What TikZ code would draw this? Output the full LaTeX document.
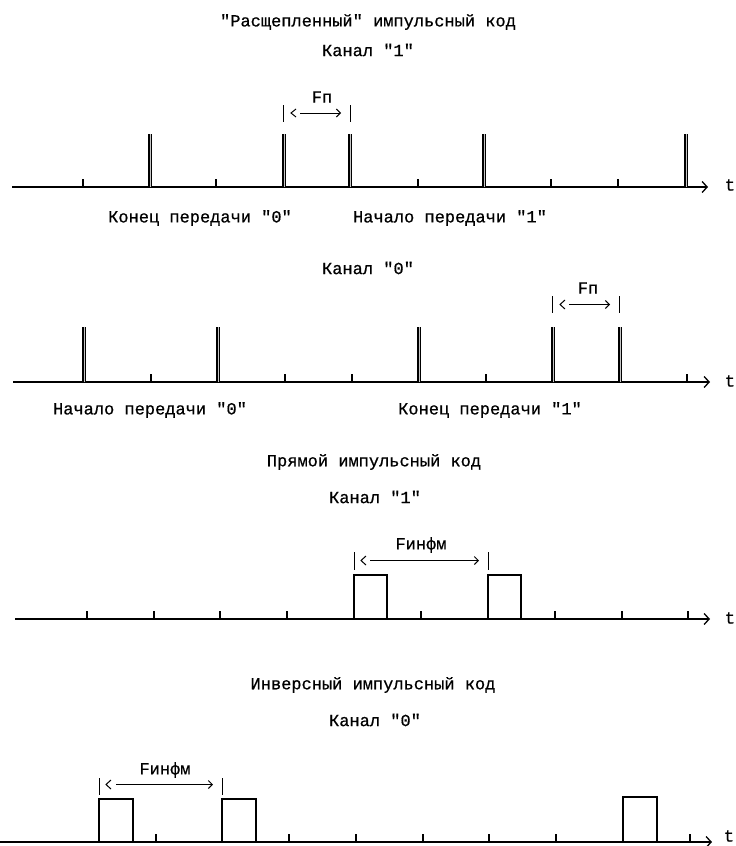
\documentclass[tikz,border=0pt]{standalone}
\usepackage{fontspec}
\setmainfont{Liberation Mono}
\newfontfamily\dotfont{Liberation Mono}[FakeBold=0.7]
\usetikzlibrary{arrows.meta}
\begin{document}
\begin{tikzpicture}[x=1pt,y=-1pt,
  lbl/.style={font=\dotfont\fontsize{17}{17}\selectfont, inner sep=0pt, anchor=center},
  axisline/.style={line width=1.9pt,-{Straight Barb[length=5pt,width=11pt,line width=1.3pt]}},
  tickmark/.style={line width=1.1pt},
  spike/.style={line width=1.6pt, double=gray!45, double distance=0.9pt},
  pulse/.style={line width=1.4pt},
  marker/.style={line width=1pt},
  spanarrow/.style={line width=1pt,-{Straight Barb[length=4pt,width=8pt,line width=1pt]}}
]
\useasboundingbox (0,0) rectangle (736,846);

% ---------- Chart 1 ----------
\node[lbl] (title1) at (368,22) {"Расщепленный" импульсный код};
\node[lbl] (kanal1a) at (368,50) {Канал "1"};
\coordinate (a1s) at (12,187);
\coordinate (a1e) at (708,187);
\draw[axisline] (a1s) -- (a1e);
\node[lbl] (t1) at (730,185) {t};
\foreach \x in {83,216,418,551,618} \draw[tickmark] (\x,187) -- (\x,179);
\foreach \x in {150,284,350,484,686} \draw[spike] (\x,187) -- (\x,134);
\draw[marker] (283,105) -- (283,122);
\draw[marker] (350,105) -- (350,122);
\draw[marker] (296,109) -- (291,113) -- (296,117);
\draw[spanarrow] (300,113) -- (341,113);
\node[lbl] (fp1) at (322,97) {Fп};
\node[lbl] (end0) at (200,218) {Конец передачи "0"};
\node[lbl] (beg1) at (450,218) {Начало передачи "1"};

% ---------- Chart 2 ----------
\node[lbl] (kanal0a) at (368,268) {Канал "0"};
\draw[axisline] (13,382) -- (710,382);
\node[lbl] (t2) at (730,381) {t};
\foreach \x in {151,285,352,486,687} \draw[tickmark] (\x,382) -- (\x,374);
\foreach \x in {84,218,419,553,620} \draw[spike] (\x,382) -- (\x,327);
\draw[marker] (552,296) -- (552,313);
\draw[marker] (619,296) -- (619,313);
\draw[marker] (565,300) -- (560,304.5) -- (565,309);
\draw[spanarrow] (569,304.5) -- (610,304.5);
\node[lbl] (fp2) at (588,288) {Fп};
\node[lbl] (beg0) at (150,410) {Начало передачи "0"};
\node[lbl] (end1) at (490,410) {Конец передачи "1"};

% ---------- Chart 3 ----------
\node[lbl] (title2) at (374,462) {Прямой импульсный код};
\node[lbl] (kanal1b) at (375,497) {Канал "1"};
\draw[axisline] (15,619) -- (710,619);
\node[lbl] (t3) at (730,618) {t};
\foreach \x in {87,154,220,287,421,555,622,688} \draw[tickmark] (\x,619) -- (\x,611);
\draw[pulse] (354,619) -- (354,575) -- (387,575) -- (387,619);
\draw[pulse] (488,619) -- (488,575) -- (521,575) -- (521,619);
\draw[marker] (354,552) -- (354,570);
\draw[marker] (488,552) -- (488,570);
\draw[marker] (366,556) -- (361,560.5) -- (366,565);
\draw[spanarrow] (370,560.5) -- (479,560.5);
\node[lbl] (fi1) at (421,545) {Fинфм};

% ---------- Chart 4 ----------
\node[lbl] (title3) at (373,685) {Инверсный импульсный код};
\node[lbl] (kanal0b) at (375,720) {Канал "0"};
\draw[axisline] (0,842) -- (712,842);
\node[lbl] (t4) at (729,836) {t};
\foreach \x in {156,289,356,423,489,556,690} \draw[tickmark] (\x,842) -- (\x,834);
\draw[pulse] (99,842) -- (99,799) -- (133,799) -- (133,842);
\draw[pulse] (222,842) -- (222,799) -- (256,799) -- (256,842);
\draw[pulse] (623,842) -- (623,797) -- (657,797) -- (657,842);
\draw[marker] (99,778) -- (99,795);
\draw[marker] (222,778) -- (222,795);
\draw[marker] (111,780) -- (106,784.5) -- (111,789);
\draw[spanarrow] (116,784.5) -- (213,784.5);
\node[lbl] (fi2) at (165,770) {Fинфм};
\end{tikzpicture}
\end{document}
